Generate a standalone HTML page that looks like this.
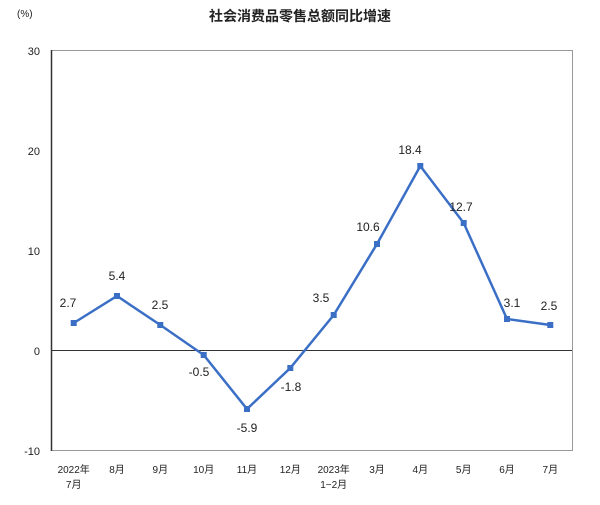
<!DOCTYPE html>
<html><head><meta charset="utf-8"><style>
body{margin:0;background:#fff;}
text{font-family:"Liberation Sans","Noto Sans CJK SC",sans-serif;fill:#222;}
</style></head><body>
<svg width="600" height="500" xmlns="http://www.w3.org/2000/svg">
<rect width="600" height="500" fill="#fff"/>
<text x="300" y="21" font-size="14" text-anchor="middle" font-weight="bold" style="font-family:'Noto Sans CJK SC',sans-serif">社会消费品零售总额同比增速</text>
<text x="17" y="17" font-size="10" fill="#444">(%)</text>
<rect x="51.5" y="50.5" width="521" height="400" fill="none" stroke="#999" stroke-width="1"/>
<line x1="51.5" y1="50" x2="51.5" y2="451" stroke="#333" stroke-width="1.5"/>
<line x1="51" y1="350.5" x2="572" y2="350.5" stroke="#333" stroke-width="1"/>
<g font-size="11" text-anchor="end">
<text x="40" y="55">30</text><text x="40" y="155">20</text><text x="40" y="255">10</text><text x="40" y="355">0</text><text x="40" y="455">-10</text>
</g>
<polyline fill="none" stroke="#3b6fc6" stroke-width="2.5" points="73.7,323 117,296 160.3,325 203.7,355 247,409 290.3,368 333.7,315 377,244 420.3,166 463.7,223 507,319 550.3,325"/>
<g fill="#3b6fc6">
<rect x="70.7" y="320" width="6" height="6"/><rect x="114" y="293" width="6" height="6"/><rect x="157.3" y="322" width="6" height="6"/><rect x="200.7" y="352" width="6" height="6"/><rect x="244" y="406" width="6" height="6"/><rect x="287.3" y="365" width="6" height="6"/><rect x="330.7" y="312" width="6" height="6"/><rect x="374" y="241" width="6" height="6"/><rect x="417.3" y="163" width="6" height="6"/><rect x="460.7" y="220" width="6" height="6"/><rect x="504" y="316" width="6" height="6"/><rect x="547.3" y="322" width="6" height="6"/>
</g>
<g font-size="12" text-anchor="middle">
<text x="68" y="307">2.7</text><text x="117" y="280">5.4</text><text x="160" y="309">2.5</text><text x="199" y="376">-0.5</text><text x="247" y="432">-5.9</text><text x="291" y="391">-1.8</text><text x="321" y="302">3.5</text><text x="368" y="231">10.6</text><text x="410" y="154">18.4</text><text x="461" y="211">12.7</text><text x="512" y="307">3.1</text><text x="549" y="310">2.5</text>
</g>
<g font-size="10" text-anchor="middle" style="font-family:'Noto Sans CJK SC',sans-serif">
<text x="73.7" y="473">2022年</text><text x="73.7" y="488">7月</text>
<text x="117" y="473">8月</text><text x="160.3" y="473">9月</text><text x="203.7" y="473">10月</text><text x="247" y="473">11月</text><text x="290.3" y="473">12月</text>
<text x="333.7" y="473">2023年</text><text x="333.7" y="488">1−2月</text>
<text x="377" y="473">3月</text><text x="420.3" y="473">4月</text><text x="463.7" y="473">5月</text><text x="507" y="473">6月</text><text x="550.3" y="473">7月</text>
</g>
</svg>
</body></html>
